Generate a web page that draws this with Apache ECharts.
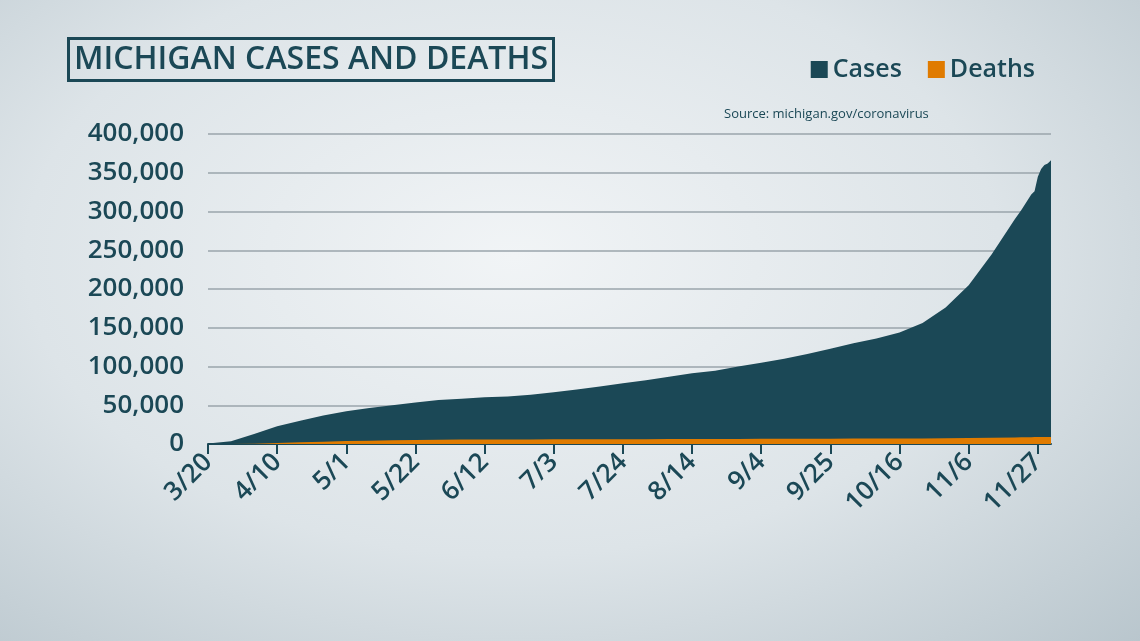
<!DOCTYPE html>
<html><head><meta charset="utf-8">
<script src="https://cdn.jsdelivr.net/npm/echarts@6/dist/echarts.min.js"></script>
<style>html,body{margin:0;padding:0}#c{width:1140px;height:641px;background:radial-gradient(ellipse at 45% 40%,#f1f4f6 0%,#dde4e8 55%,#b9c6cd 100%)}</style>
</head><body><div id="c"></div>
<script>
const caseDates = ['2020-03-20','2020-03-27','2020-04-03','2020-04-10','2020-04-17','2020-04-24','2020-05-01','2020-05-08','2020-05-15','2020-05-22','2020-05-29','2020-06-05','2020-06-12','2020-06-19','2020-06-26','2020-07-03','2020-07-10','2020-07-17','2020-07-24','2020-07-31','2020-08-07','2020-08-14','2020-08-21','2020-08-28','2020-09-04','2020-09-11','2020-09-18','2020-09-25','2020-10-02','2020-10-09','2020-10-16','2020-10-23','2020-10-30','2020-11-06','2020-11-13','2020-11-20','2020-11-22','2020-11-25','2020-11-26','2020-11-27','2020-11-28','2020-11-29','2020-11-30','2020-12-01'];
const cases = [549,3657,12744,22783,30023,36641,42356,46326,50079,53510,56884,58241,60189,61409,63539,66627,70278,74220,78445,82356,86661,91140,94599,100000,105000,110000,116000,123000,130000,136000,144000,156000,176000,205000,245000,290000,302000,322000,326000,345000,355000,360000,362000,366000];
const deaths = [6,90,480,1280,2230,2980,3790,4250,4900,5130,5330,5670,5790,5880,5950,6050,6120,6170,6220,6290,6370,6440,6500,6580,6660,6720,6800,6880,6950,7030,7140,7250,7380,7650,8050,8500,8630,8850,8900,8950,9000,9050,9100,9160];
const startDate = '2020-03-20', endDate = '2020-12-01';
const tickStepDays = 21;
const DAY = 86400000;
const day = d => Math.round((Date.parse(d + 'T00:00:00Z') - Date.parse(startDate + 'T00:00:00Z')) / DAY);
const C = '#1b4856', O = '#e07b00';
const chart = echarts.init(document.getElementById('c'));
chart.setOption({
  animation:false,
  title:{text:'MICHIGAN CASES AND DEATHS',left:68,top:38,padding:[6,6,5,6],borderColor:C,borderWidth:3,
    textStyle:{color:C,fontFamily:'Open Sans',fontWeight:600,fontSize:32}},
  graphic:[{type:'text',left:724,top:108,style:{text:'Source: michigan.gov/coronavirus',fill:C,font:'13px "Open Sans"'}}],
  legend:{right:100,top:52,itemWidth:17,itemHeight:17,itemGap:26,icon:'rect',
    textStyle:{color:C,fontFamily:'Open Sans',fontSize:25,fontWeight:600},
    data:['Cases','Deaths']},
  grid:{left:208,right:89,top:134,bottom:197},
  xAxis:{type:'value',min:0,max:day(endDate),interval:tickStepDays,
    axisLine:{lineStyle:{color:C,width:2}},
    axisTick:{show:true,length:10,lineStyle:{color:C,width:2}},
    splitLine:{show:false},
    axisLabel:{rotate:45,color:C,fontFamily:'Open Sans',fontSize:26,fontWeight:600,margin:14,showMaxLabel:false,
      formatter:v=>{const d=new Date(Date.parse(startDate+'T00:00:00Z')+v*DAY);return (d.getUTCMonth()+1)+'/'+d.getUTCDate();}}},
  yAxis:{type:'value',min:0,max:400000,interval:50000,
    axisLine:{show:false},axisTick:{show:false},
    splitLine:{lineStyle:{color:'#9aa5ab',width:1.5}},
    axisLabel:{color:C,fontFamily:'Open Sans',fontSize:26,fontWeight:600,margin:24,
      formatter:v=>v.toLocaleString('en-US')}},
  series:[
    {name:'Cases',type:'line',symbol:'none',lineStyle:{width:0},itemStyle:{color:C},areaStyle:{color:C,opacity:1},
      data:caseDates.map((d,i)=>[day(d),cases[i]])},
    {name:'Deaths',type:'line',symbol:'none',lineStyle:{width:0},itemStyle:{color:O},areaStyle:{color:O,opacity:1},
      data:caseDates.map((d,i)=>[day(d),deaths[i]])}
  ]
});
</script></body></html>
